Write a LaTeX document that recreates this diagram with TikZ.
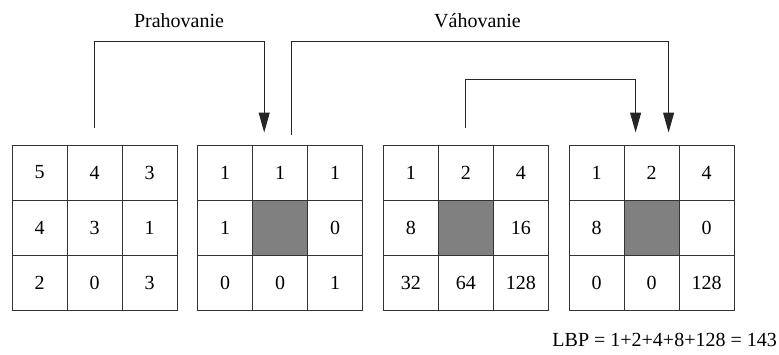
\documentclass[tikz,border=0pt]{standalone}
\usepackage{fontspec}
\setmainfont{Liberation Serif}
\usetikzlibrary{arrows.meta,calc}
\def\holemark{*}
\begin{document}
\begin{tikzpicture}[x=1pt,y=-1pt,
  txt/.style={font=\fontsize{20}{24}\selectfont},
  cell/.style={txt, draw=black!80, line width=1pt, minimum size=55pt,
    inner sep=0pt, anchor=center},
  hole/.style={cell, fill=gray},
  link/.style={line width=1pt, draw=black!85,
    -{Triangle[length=20pt,width=11pt]}}]
\useasboundingbox (0,0) rectangle (779,354);

% four 3x3 neighbourhoods; * marks the centre pixel
\foreach \g/\x/\vals in {a/12/{5,4,3,4,3,1,2,0,3},
                         b/197.7/{1,1,1,1,*,0,0,0,1},
                         c/383.4/{1,2,4,8,*,16,32,64,128},
                         d/569.1/{1,2,4,8,*,0,0,0,128}}{
  \foreach \v [count=\i from 0] in \vals {
    \pgfmathtruncatemacro\r{div(\i,3)}
    \pgfmathtruncatemacro\c{mod(\i,3)}
    \ifx\v\holemark
      \node[hole] (\g\r\c) at (\x+27.5+55*\c, 145+27.5+55*\r) {};
    \else
      \node[cell] (\g\r\c) at (\x+27.5+55*\c, 145+27.5+55*\r) {\v};
    \fi
  }
}

% connector end points above the top middle cells
\coordinate (s1) at ($(a01.north)+(0,-17)$);
\coordinate (t1) at ($(b01.north)+(-16,-12)$);
\coordinate (s2) at ($(b01.north)+(11,-10)$);
\coordinate (t2) at ($(d01.north)+(17,-12)$);
\coordinate (s3) at ($(c01.north)+(0,-17)$);
\coordinate (t3) at ($(d01.north)+(-16,-12)$);

\draw[link] (s1) -- ++(0,-86) -| (t1);
\draw[link] (s2) -- ++(0,-93) -| (t2);
\draw[link] (s3) -- ++(0,-48) -| (t3);

\node[txt] (lp) at (179,21) {Prahovanie};
\node[txt] (lv) at (477.5,21) {Váhovanie};
\node[txt, anchor=east, inner sep=0pt] (res) at (777,340) {LBP = 1+2+4+8+128 = 143};
\end{tikzpicture}
\end{document}
